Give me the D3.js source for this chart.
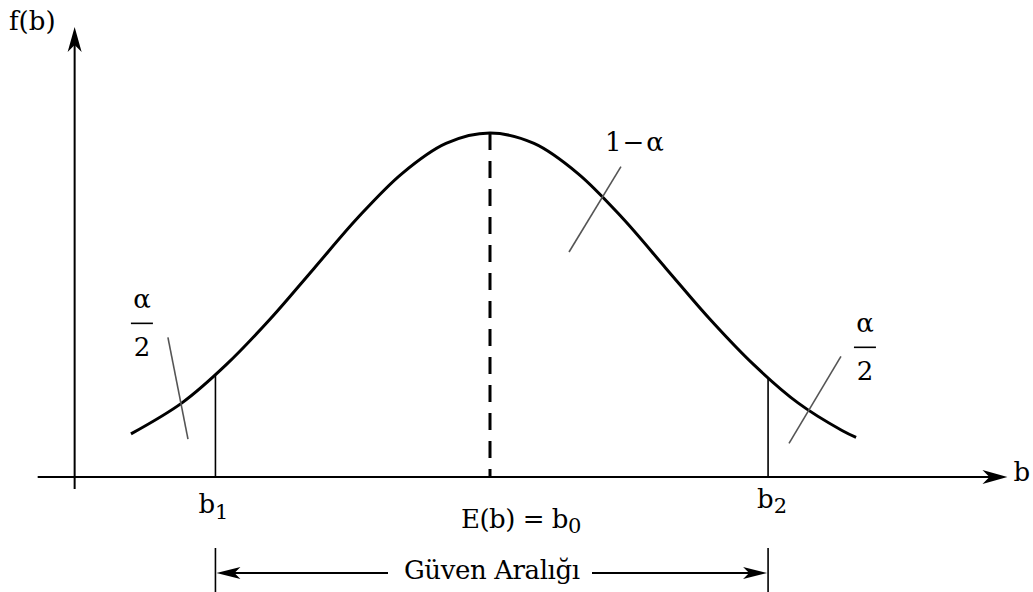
<!DOCTYPE html>
<html>
<head>
<meta charset="utf-8">
<script src="https://cdn.jsdelivr.net/npm/d3@7"></script>
<style>
  body { margin: 0; background: #fff; }
  svg { display: block; }
  text { font-family: "DejaVu Serif", "Liberation Serif", serif; fill: #000; }
</style>
</head>
<body>
<svg id="chart" width="1033" height="592"></svg>
<script>
// Sampling density f(b) of the estimator b, with b in standard-deviation units around E(b)
const curveB = [-2.04, -1.75, -1.5, -1.25, -1.0, -0.75, -0.5, -0.25, 0, 0.25, 0.5, 0.75, 1.0, 1.25, 1.5, 1.75, 2.0, 2.08];
const curveF = [0.050, 0.086, 0.130, 0.183, 0.242, 0.301, 0.352, 0.387, 0.399, 0.387, 0.352, 0.301, 0.242, 0.183, 0.130, 0.086, 0.054, 0.046];

// Confidence limits b1, b2 and the density height there
const boundNames = ["1", "2"];
const boundB = [-1.56, 1.58];
const boundF = [0.118, 0.115];

// Expected value E(b) = b0
const meanB = 0;
const meanF = 0.399;

// Short slashes pointing at the tail and centre areas
const slashB = [[-1.83, -1.716], [0.744, 0.449], [1.994, 1.699]];
const slashF = [[0.162, 0.044], [0.360, 0.261], [0.140, 0.039]];

// Axis extents
const axisB = [-2.57, 2.94];
const axisF = [-0.014, 0.522];
const yAxisAt = -2.36;

const FS = 26;      // label font size
const SUB = 21;     // subscript font size

const svg = d3.select("#chart");

const x = d3.scaleLinear().domain([-2.5, 3.0]).range([50, 1018]);
const y = d3.scaleLinear().domain([0, 0.5]).range([477, 46]);

// Barbed arrow head; angle in radians of the pointing direction
function arrowHead(tx, ty, ang, len, half, notch) {
  const c = Math.cos(ang), s = Math.sin(ang);
  const pt = (a, b) => [tx - a * c - b * s, ty - a * s + b * c];
  const p1 = pt(len, half), p2 = pt(len - notch, 0), p3 = pt(len, -half);
  return `M${tx},${ty}L${p1[0]},${p1[1]}L${p2[0]},${p2[1]}L${p3[0]},${p3[1]}Z`;
}

// Axes
const gAxes = svg.append("g");
gAxes.append("line")
  .attr("x1", x(axisB[0])).attr("x2", x(axisB[1]) - 10)
  .attr("y1", y(0)).attr("y2", y(0))
  .attr("stroke", "#000").attr("stroke-width", 2);
gAxes.append("path")
  .attr("d", arrowHead(x(axisB[1]), y(0), 0, 25, 7, 7))
  .attr("fill", "#000");
gAxes.append("line")
  .attr("x1", x(yAxisAt)).attr("x2", x(yAxisAt))
  .attr("y1", y(axisF[0])).attr("y2", y(axisF[1]) + 10)
  .attr("stroke", "#000").attr("stroke-width", 2);
gAxes.append("path")
  .attr("d", arrowHead(x(yAxisAt), y(axisF[1]), -Math.PI / 2, 25, 7, 7))
  .attr("fill", "#000");

gAxes.append("text").attr("x", 9).attr("y", 30).attr("font-size", FS).text("f(b)");
gAxes.append("text").attr("x", x(axisB[1]) + 6).attr("y", y(0) + 4).attr("font-size", FS).text("b");

// Vertical limits at b1 and b2
svg.append("g").selectAll("line")
  .data(boundB)
  .join("line")
  .attr("x1", d => x(d)).attr("x2", d => x(d))
  .attr("y1", (d, i) => y(boundF[i])).attr("y2", y(0))
  .attr("stroke", "#000").attr("stroke-width", 1.6);

// Dashed line at the mean
svg.append("line")
  .attr("x1", x(meanB)).attr("x2", x(meanB))
  .attr("y1", y(meanF)).attr("y2", y(0))
  .attr("stroke", "#000").attr("stroke-width", 3)
  .attr("stroke-dasharray", "17,11");

// Density curve
const pts = curveB.map((b, i) => [b, curveF[i]]);
svg.append("path")
  .datum(pts)
  .attr("fill", "none")
  .attr("stroke", "#000")
  .attr("stroke-width", 3)
  .attr("stroke-linejoin", "round")
  .attr("d", d3.line().x(d => x(d[0])).y(d => y(d[1])).curve(d3.curveCatmullRom.alpha(0.5)));

// Slashes
svg.append("g").selectAll("line")
  .data(slashB)
  .join("line")
  .attr("x1", d => x(d[0])).attr("x2", d => x(d[1]))
  .attr("y1", (d, i) => y(slashF[i][0])).attr("y2", (d, i) => y(slashF[i][1]))
  .attr("stroke", "#555").attr("stroke-width", 1.6);

// Area labels: alpha/2 fractions at both tails, 1 - alpha in the centre
function fraction(cx, top) {
  const g = svg.append("g");
  g.append("text").attr("x", cx).attr("y", top).attr("font-size", FS)
    .attr("text-anchor", "middle").text("α");
  g.append("line").attr("x1", cx - 11).attr("x2", cx + 11)
    .attr("y1", top + 15).attr("y2", top + 15)
    .attr("stroke", "#000").attr("stroke-width", 1.6);
  g.append("text").attr("x", cx).attr("y", top + 48).attr("font-size", FS)
    .attr("text-anchor", "middle").text("2");
}
fraction(x(slashB[0][0]) - 26, y(slashF[0][0]) - 29);
fraction(x(slashB[2][0]) + 24, y(slashF[2][0]) - 24);

const oneMinus = svg.append("text")
  .attr("x", x(slashB[1][0]) - 16).attr("y", y(slashF[1][0]) - 16)
  .attr("font-size", FS);
oneMinus.append("tspan").text("1");
oneMinus.append("tspan").attr("dx", 1).text("−");
oneMinus.append("tspan").attr("dx", 2).text("α");

// Limit labels b1, b2
const subDy = [6, 5];
const boundLabelY = [513, 508];
boundB.forEach((b, i) => {
  const t = svg.append("text")
    .attr("x", x(b) - 17 + i * 6).attr("y", boundLabelY[i]).attr("font-size", FS);
  t.append("tspan").text("b");
  t.append("tspan").attr("font-size", SUB).attr("dy", subDy[i]).attr("dx", 0).text(boundNames[i]);
});

// E(b) = b0
const eLab = svg.append("text").attr("x", x(meanB) - 29).attr("y", 528).attr("font-size", FS)
  .attr("letter-spacing", -0.5);
eLab.append("tspan").text("E(b) = b");
eLab.append("tspan").attr("font-size", SUB).attr("dy", 5).attr("dx", 0).text("0");

// Confidence interval bracket
const ciY = 573;
const gCi = svg.append("g");
boundB.forEach(b => {
  gCi.append("line")
    .attr("x1", x(b)).attr("x2", x(b))
    .attr("y1", ciY - 25).attr("y2", 592)
    .attr("stroke", "#000").attr("stroke-width", 1.6);
});
gCi.append("line").attr("x1", x(boundB[0]) + 8).attr("x2", 388)
  .attr("y1", ciY).attr("y2", ciY).attr("stroke", "#000").attr("stroke-width", 1.8);
gCi.append("line").attr("x1", 592).attr("x2", x(boundB[1]) - 8)
  .attr("y1", ciY).attr("y2", ciY).attr("stroke", "#000").attr("stroke-width", 1.8);
gCi.append("path").attr("d", arrowHead(x(boundB[0]) + 1, ciY, Math.PI, 24, 6, 6)).attr("fill", "#000");
gCi.append("path").attr("d", arrowHead(x(boundB[1]) - 1, ciY, 0, 24, 6, 6)).attr("fill", "#000");
gCi.append("text").attr("x", 404).attr("y", 579).attr("font-size", FS)
  .attr("letter-spacing", -0.4).text("Güven Aralığı");
</script>
</body>
</html>
